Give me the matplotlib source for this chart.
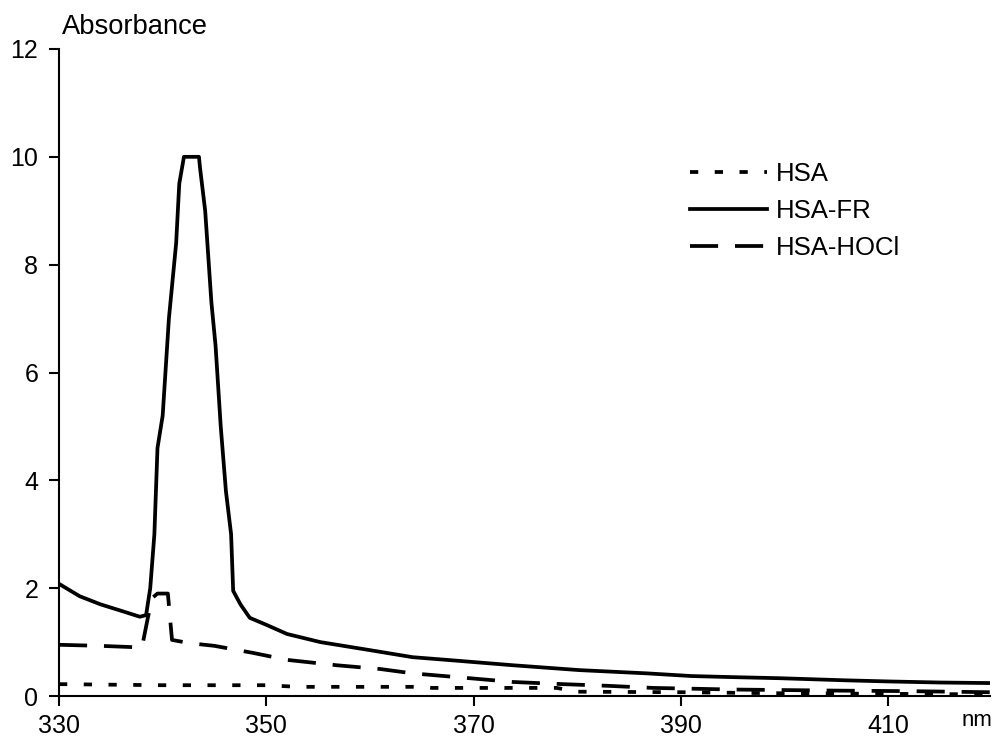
import matplotlib
matplotlib.use('Agg')
import matplotlib.pyplot as plt

plt.rcParams['font.family'] = ['Liberation Sans', 'DejaVu Sans']

# HSA-FR (solid)
fr_nm = [330, 332, 334, 336, 337.8, 338.4, 338.8, 339.2, 339.5, 340.0, 340.6, 341.3,
         341.6, 342.05, 343.5, 343.6, 344.1, 344.7, 345.1, 345.6, 346.1, 346.6, 346.8,
         347.5, 348.4, 350, 352, 355.2, 360, 364.1, 367.4, 373.8, 380.2, 386.7, 391,
         395, 399.5, 406, 410, 415, 419.8]
fr_abs = [2.08, 1.85, 1.7, 1.58, 1.47, 1.5, 2.0, 3.0, 4.6, 5.2, 7.0, 8.4,
          9.5, 10.0, 10.0, 9.8, 9.0, 7.3, 6.5, 5.0, 3.8, 3.0, 1.95,
          1.7, 1.45, 1.32, 1.15, 1.0, 0.85, 0.72, 0.67, 0.57, 0.48, 0.42, 0.37,
          0.35, 0.33, 0.29, 0.27, 0.25, 0.24]

# HSA-HOCl (long dashes)
hocl_nm = [330, 334, 338, 338.6, 339.0, 339.5, 340.5, 340.9, 342.6, 345, 348.7, 352,
           356.8, 361, 364.1, 369.6, 373.8, 378.6, 382.8, 387.3, 395, 405, 412, 419.8]
hocl_abs = [0.95, 0.93, 0.9, 1.48, 1.82, 1.9, 1.9, 1.04, 0.98, 0.93, 0.8, 0.67,
            0.57, 0.5, 0.42, 0.33, 0.26, 0.22, 0.19, 0.15, 0.12, 0.1, 0.09, 0.07]

# HSA (dotted)
hsa_nm = [330, 335, 340, 345, 350, 353, 360, 365, 366, 372, 378, 380, 390, 400, 410, 419.8]
hsa_abs = [0.22, 0.21, 0.2, 0.2, 0.2, 0.17, 0.17, 0.17, 0.15, 0.15, 0.15, 0.08, 0.07, 0.05, 0.04, 0.03]

fig = plt.figure(figsize=(9.97, 7.45), dpi=100)
ax = fig.add_axes([59/997, 49/745, (990-59)/997, (696-49)/745])

lw = 2.7
ax.plot(hsa_nm, hsa_abs, color='black', lw=lw, dashes=(2.2, 4.4), label='HSA')
ax.plot(fr_nm, fr_abs, color='black', lw=lw, label='HSA-FR')
ax.plot(hocl_nm, hocl_abs, color='black', lw=lw, dashes=(7.5, 4.5), label='HSA-HOCl')

ax.set_xlim(330, 419.8)
ax.set_ylim(0, 12)
ax.set_xticks([330, 350, 370, 390, 410])
ax.set_yticks([0, 2, 4, 6, 8, 10, 12])
ax.spines['top'].set_visible(False)
ax.spines['right'].set_visible(False)
for s in ['left', 'bottom']:
    ax.spines[s].set_linewidth(1.5)
ax.tick_params(direction='out', length=7, width=1.5, labelsize=18, pad=6)
ax.tick_params(axis='y', pad=8)

fig.text(62/997, 1 - 27/745, 'Absorbance', fontsize=19.7, va='center', ha='left')
fig.text(977/997, 1 - 720/745, 'nm', fontsize=16, va='center', ha='center')

ax.legend(loc='upper left', bbox_to_anchor=(0.667, 0.841), frameon=False, fontsize=18.5,
          handlelength=3.0, handletextpad=0.35, labelspacing=0.5, borderaxespad=0)

fig.savefig('out.png', dpi=100)
